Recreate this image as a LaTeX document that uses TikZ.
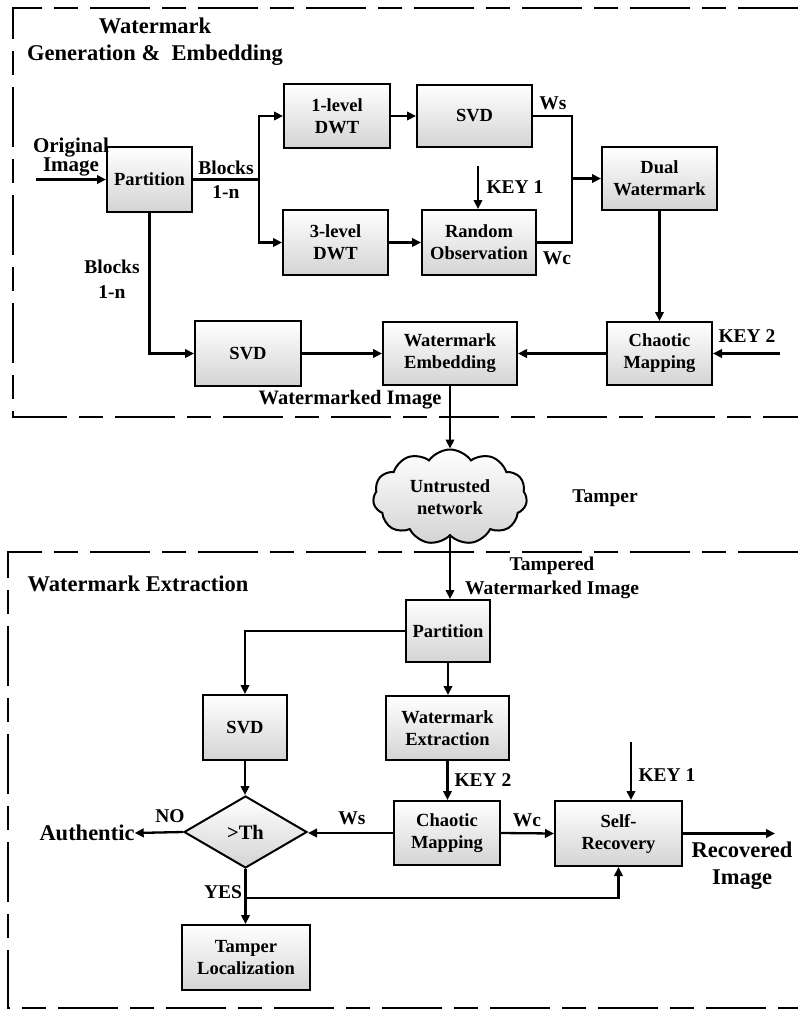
\documentclass[tikz,border=0pt]{standalone}
\usepackage{fontspec}
\setmainfont{Liberation Serif}
\usetikzlibrary{arrows.meta,shapes.geometric,shapes.symbols}
\newcommand{\fbx}{\fontsize{18.5}{22}\selectfont\bfseries}
\newcommand{\flab}{\fontsize{19.5}{24.5}\selectfont\bfseries}
\newcommand{\fbig}{\fontsize{22.5}{27}\selectfont\bfseries}
\tikzset{
  blk/.style={draw, line width=2pt, top color=white, bottom color=black!17,
    inner sep=0pt, align=center, font=\fbx},
  lab/.style={inner sep=0pt, align=center, font=\flab},
  arr/.style={line width=2.3pt, -{Triangle[length=9pt,width=8.5pt]}},
  ln/.style={line width=2.3pt},
  frame/.style={line width=2.6pt, dash pattern=on 60pt off 12pt on 24pt off 12pt}
}
\begin{document}
\begin{tikzpicture}[x=1pt,y=-1pt]
\useasboundingbox (0,0) rectangle (798,1010);
% frames
\draw[frame] (798,8) -- (13,8) -- (13,417) -- (798,417);
\draw[frame] (798,552) -- (8,552) -- (8,1008) -- (798,1008);
% titles
\node[inner sep=0pt, align=center, font=\fbig] (t1) at (155,42) {Watermark\\Generation \&\ \ Embedding};
\node[inner sep=0pt, font=\fbig] (t2) at (138,584) {Watermark Extraction};
% top boxes
\node[blk, minimum width=85pt, minimum height=65pt] (part1) at (149.5,179.5) {Partition};
\node[blk, minimum width=106pt, minimum height=64pt] (dwt1) at (337,116) {1-level\\DWT};
\node[blk, minimum width=115pt, minimum height=62pt] (svd1) at (474.5,116) {SVD};
\node[blk, minimum width=105pt, minimum height=65pt] (dwt3) at (335.5,242.5) {3-level\\DWT};
\node[blk, minimum width=114pt, minimum height=65pt] (rand) at (479,242.5) {Random\\Observation};
\node[blk, minimum width=115pt, minimum height=63pt] (dual) at (659.5,178.5) {Dual\\Watermark};
\node[blk, minimum width=105pt, minimum height=63pt] (chaos1) at (659.5,353.5) {Chaotic\\Mapping};
\node[blk, minimum width=134pt, minimum height=63pt] (embed) at (450,353.5) {Watermark\\Embedding};
\node[blk, minimum width=106pt, minimum height=65pt] (svd2) at (248,353.5) {SVD};
% cloud
\node[cloud, draw, line width=2pt, top color=white, bottom color=black!17, cloud puffs=11, cloud puff arc=110, aspect=1.6, minimum width=154pt, minimum height=95pt, inner sep=0pt, align=center, font=\fbx] (cloud) at (450,497) {Untrusted\\network};
% bottom boxes
\node[blk, minimum width=84pt, minimum height=62pt] (part2) at (448,631) {Partition};
\node[blk, minimum width=123pt, minimum height=64pt] (wext) at (447.5,728) {Watermark\\Extraction};
\node[blk, minimum width=84pt, minimum height=65pt] (svd3) at (245,727.5) {SVD};
\node[diamond, draw, line width=2pt, top color=white, bottom color=black!17, minimum width=123pt, minimum height=72pt, inner sep=0pt, font=\fontsize{20.5}{24}\selectfont\bfseries] (dia) at (245.5,832) {>Th};
\node[blk, minimum width=106pt, minimum height=64pt] (chaos2) at (447,833) {Chaotic\\Mapping};
\node[blk, minimum width=127pt, minimum height=65pt] (selfrec) at (618.5,833.5) {Self-\\Recovery};
\node[blk, minimum width=128pt, minimum height=65pt] (tloc) at (246,957.5) {Tamper\\Localization};
% labels
\node[inner sep=0pt, align=center, font=\fontsize{21}{17}\selectfont\bfseries] (lorig) at (71,157) {Original\\Image};
\node[lab] (lblk1) at (226,179.5) {Blocks\\1-n};
\node[lab] (lblk2) at (112,279) {Blocks\\1-n};
\node[lab] (lws1) at (553,103) {Ws};
\node[lab] (lwc1) at (557,258) {Wc};
\node[lab] (lkey1a) at (515,187) {KEY 1};
\node[lab] (lkey2a) at (747,336) {KEY 2};
\node[inner sep=0pt, font=\fontsize{20.5}{24}\selectfont\bfseries] (lwmi) at (350,400) {Watermarked Image};
\node[lab] (ltamper) at (605,498) {Tamper};
\node[lab] (ltwi) at (552,578) {Tampered\\Watermarked Image};
\node[lab] (lkey2b) at (483,780) {KEY 2};
\node[lab] (lkey1b) at (667,775) {KEY 1};
\node[lab] (lws2) at (352,818) {Ws};
\node[lab] (lwc2) at (527,820) {Wc};
\node[lab] (lno) at (170,816) {NO};
\node[lab] (lyes) at (223,892) {YES};
\node[inner sep=0pt, font=\fbig] (auth) at (87,833) {Authentic};
\node[inner sep=0pt, align=center, font=\fbig] (lrec) at (742,866) {Recovered\\Image};
% coordinates
\coordinate (orig) at (36,179.5);
\coordinate (br) at (259,179.5);
\coordinate (j) at (572,178.5);
\coordinate (k1a) at (478,166);
\coordinate (k2a) at (780,353.5);
\coordinate (k1b) at (631,742);
\coordinate (ys) at (245.5,898);
\coordinate (rec) at (775,833.5);
% top connectors
\draw[arr] (orig) -- (part1.west);
\draw[ln] (part1.east) -- (br);
\draw[arr] (br) |- (dwt1.west);
\draw[arr] (br) |- (dwt3.west);
\draw[arr] (dwt1.east) -- (svd1.west);
\draw[arr] (dwt3.east) -- (rand.west);
\draw[ln] (svd1.east) -| (j);
\draw[ln] (rand.east) -| (j);
\draw[arr] (j) -- (dual.west);
\draw[arr] (k1a) -- (k1a |- rand.north);
\draw[arr] (dual.south) -- (chaos1.north);
\draw[arr] (k2a) -- (chaos1.east);
\draw[arr] (chaos1.west) -- (embed.east);
\draw[arr] (part1.south) |- (svd2.west);
\draw[arr] (svd2.east) -- (embed.west);
\draw[arr] (embed.south) -- (cloud.north);
% bottom connectors
\draw[arr] (cloud.south) -- (cloud.south |- part2.north);
\draw[arr] (part2.west) -| (svd3.north);
\draw[arr] (part2.south) -- (part2.south |- wext.north);
\draw[arr] (wext.south) -- (wext.south |- chaos2.north);
\draw[arr] (svd3.south) -- (svd3.south |- dia.north);
\draw[arr] (chaos2.west) -- (chaos2.west -| dia.east);
\draw[arr] (dia.west) -- (auth.east);
\draw[arr] (dia.south) -- (dia.south |- tloc.north);
\draw[arr] (ys) -| (selfrec.south);
\draw[arr] (chaos2.east) -- (selfrec.west);
\draw[arr] (k1b) -- (k1b |- selfrec.north);
\draw[arr] (selfrec.east) -- (rec);
\end{tikzpicture}
\end{document}
